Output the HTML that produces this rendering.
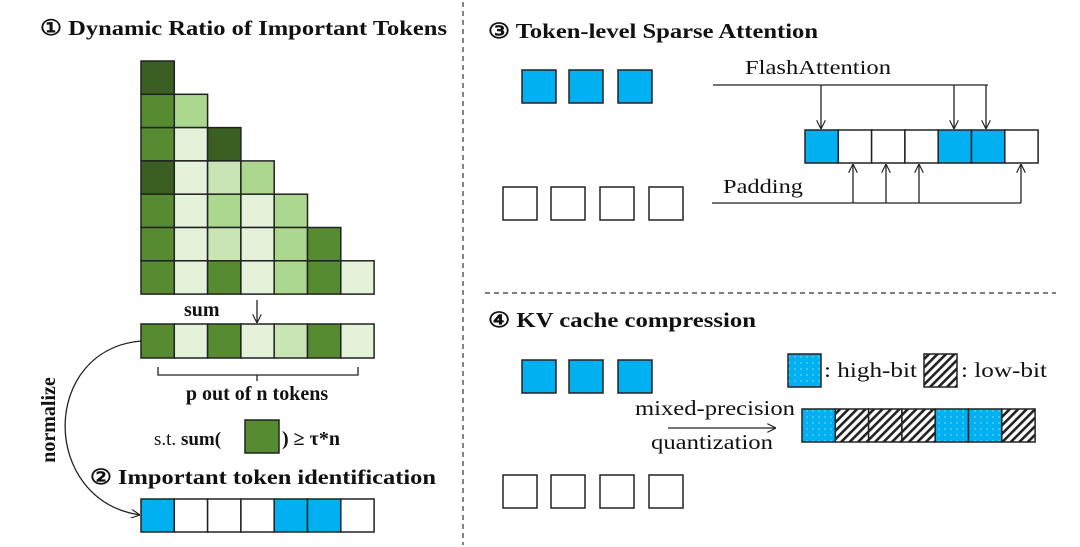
<!DOCTYPE html>
<html><head><meta charset="utf-8"><style>html,body{margin:0;padding:0;background:#fff}svg{display:block}</style></head><body>
<svg width="1080" height="547" viewBox="0 0 1080 547" xmlns="http://www.w3.org/2000/svg" font-family="Liberation Serif, serif">
<defs>
<marker id="ah" viewBox="0 0 10 10" refX="10" refY="5" markerWidth="9" markerHeight="9" orient="auto" markerUnits="userSpaceOnUse"><path d="M0,0 L10,5 L0,10" fill="none" stroke="#222" stroke-width="1.3"/></marker>
<pattern id="dots" width="6" height="6" patternUnits="userSpaceOnUse"><rect width="6" height="6" fill="#00b0f0"/><circle cx="3" cy="3" r="0.7" fill="#9fe0fa"/></pattern>
<pattern id="hatch" width="6" height="6" patternUnits="userSpaceOnUse" patternTransform="rotate(45)"><rect width="6" height="6" fill="#fff"/><rect width="2.6" height="6" fill="#222"/></pattern>
</defs>
<g stroke="#222" stroke-width="1.5">
<rect x="141" y="61" width="33.3" height="33.3" fill="#3b5e22"/>
<rect x="141" y="94.3" width="33.3" height="33.3" fill="#568b32"/><rect x="174.3" y="94.3" width="33.3" height="33.3" fill="#acd78e"/>
<rect x="141" y="127.6" width="33.3" height="33.3" fill="#568b32"/><rect x="174.3" y="127.6" width="33.3" height="33.3" fill="#e5f2da"/><rect x="207.6" y="127.6" width="33.3" height="33.3" fill="#3b5e22"/>
<rect x="141" y="160.9" width="33.3" height="33.3" fill="#3b5e22"/><rect x="174.3" y="160.9" width="33.3" height="33.3" fill="#e5f2da"/><rect x="207.6" y="160.9" width="33.3" height="33.3" fill="#c9e5b5"/><rect x="240.9" y="160.9" width="33.3" height="33.3" fill="#acd78e"/>
<rect x="141" y="194.2" width="33.3" height="33.3" fill="#568b32"/><rect x="174.3" y="194.2" width="33.3" height="33.3" fill="#e5f2da"/><rect x="207.6" y="194.2" width="33.3" height="33.3" fill="#acd78e"/><rect x="240.9" y="194.2" width="33.3" height="33.3" fill="#e5f2da"/><rect x="274.2" y="194.2" width="33.3" height="33.3" fill="#acd78e"/>
<rect x="141" y="227.5" width="33.3" height="33.3" fill="#568b32"/><rect x="174.3" y="227.5" width="33.3" height="33.3" fill="#e5f2da"/><rect x="207.6" y="227.5" width="33.3" height="33.3" fill="#c9e5b5"/><rect x="240.9" y="227.5" width="33.3" height="33.3" fill="#e5f2da"/><rect x="274.2" y="227.5" width="33.3" height="33.3" fill="#acd78e"/><rect x="307.5" y="227.5" width="33.3" height="33.3" fill="#568b32"/>
<rect x="141" y="260.8" width="33.3" height="33.3" fill="#568b32"/><rect x="174.3" y="260.8" width="33.3" height="33.3" fill="#e5f2da"/><rect x="207.6" y="260.8" width="33.3" height="33.3" fill="#568b32"/><rect x="240.9" y="260.8" width="33.3" height="33.3" fill="#e5f2da"/><rect x="274.2" y="260.8" width="33.3" height="33.3" fill="#acd78e"/><rect x="307.5" y="260.8" width="33.3" height="33.3" fill="#568b32"/><rect x="340.8" y="260.8" width="33.3" height="33.3" fill="#e5f2da"/>
<rect x="141" y="324" width="33.3" height="34" fill="#568b32"/><rect x="174.3" y="324" width="33.3" height="34" fill="#e5f2da"/><rect x="207.6" y="324" width="33.3" height="34" fill="#568b32"/><rect x="240.9" y="324" width="33.3" height="34" fill="#e5f2da"/><rect x="274.2" y="324" width="33.3" height="34" fill="#c9e5b5"/><rect x="307.5" y="324" width="33.3" height="34" fill="#568b32"/><rect x="340.8" y="324" width="33.3" height="34" fill="#e5f2da"/>
<rect x="141" y="499" width="33.3" height="33" fill="#00b0f0"/><rect x="174.3" y="499" width="33.3" height="33" fill="#fff"/><rect x="207.6" y="499" width="33.3" height="33" fill="#fff"/><rect x="240.9" y="499" width="33.3" height="33" fill="#fff"/><rect x="274.2" y="499" width="33.3" height="33" fill="#00b0f0"/><rect x="307.5" y="499" width="33.3" height="33" fill="#00b0f0"/><rect x="340.8" y="499" width="33.3" height="33" fill="#fff"/>
<rect x="245" y="420" width="34" height="33" fill="#568b32"/>
<rect x="522" y="70" width="34" height="33" fill="#00b0f0"/><rect x="569" y="70" width="34" height="33" fill="#00b0f0"/><rect x="618" y="70" width="34" height="33" fill="#00b0f0"/>
<rect x="503" y="187" width="34" height="33" fill="#fff"/><rect x="551" y="187" width="34" height="33" fill="#fff"/><rect x="600" y="187" width="34" height="33" fill="#fff"/><rect x="649" y="187" width="34" height="33" fill="#fff"/>
<rect x="805" y="130" width="33.3" height="33" fill="#00b0f0"/><rect x="838.3" y="130" width="33.3" height="33" fill="#fff"/><rect x="871.6" y="130" width="33.3" height="33" fill="#fff"/><rect x="904.9" y="130" width="33.3" height="33" fill="#fff"/><rect x="938.2" y="130" width="33.3" height="33" fill="#00b0f0"/><rect x="971.5" y="130" width="33.3" height="33" fill="#00b0f0"/><rect x="1004.8" y="130" width="33.3" height="33" fill="#fff"/>
<rect x="522" y="360" width="34" height="33" fill="#00b0f0"/><rect x="569" y="360" width="34" height="33" fill="#00b0f0"/><rect x="618" y="360" width="34" height="33" fill="#00b0f0"/>
<rect x="503" y="475" width="34" height="33" fill="#fff"/><rect x="551" y="475" width="34" height="33" fill="#fff"/><rect x="600" y="475" width="34" height="33" fill="#fff"/><rect x="649" y="475" width="34" height="33" fill="#fff"/>
<rect x="788" y="354" width="33" height="33" fill="url(#dots)"/><rect x="924" y="354" width="33" height="33" fill="url(#hatch)"/>
<rect x="802" y="409" width="33.3" height="33" fill="url(#dots)"/><rect x="835.3" y="409" width="33.3" height="33" fill="url(#hatch)"/><rect x="868.6" y="409" width="33.3" height="33" fill="url(#hatch)"/><rect x="901.9" y="409" width="33.3" height="33" fill="url(#hatch)"/><rect x="935.2" y="409" width="33.3" height="33" fill="url(#dots)"/><rect x="968.5" y="409" width="33.3" height="33" fill="url(#dots)"/><rect x="1001.8" y="409" width="33.3" height="33" fill="url(#hatch)"/>
</g>
<g stroke="#222" stroke-width="1.3" fill="none">
<line x1="257" y1="300" x2="257" y2="323" marker-end="url(#ah)"/>
<path d="M158,367 V375 H358 V367 M257,375 V381"/>
<path d="M141,341 C40,350 40,500 140,515" marker-end="url(#ah)"/>
<line x1="713" y1="85" x2="988" y2="85"/>
<line x1="821" y1="85" x2="821" y2="129" marker-end="url(#ah)"/>
<line x1="954" y1="85" x2="954" y2="129" marker-end="url(#ah)"/>
<line x1="986" y1="85" x2="986" y2="129" marker-end="url(#ah)"/>
<line x1="712" y1="203" x2="1021" y2="203"/>
<line x1="853" y1="203" x2="853" y2="164" marker-end="url(#ah)"/>
<line x1="886" y1="203" x2="886" y2="164" marker-end="url(#ah)"/>
<line x1="919" y1="203" x2="919" y2="164" marker-end="url(#ah)"/>
<line x1="1021" y1="203" x2="1021" y2="164" marker-end="url(#ah)"/>
<line x1="668" y1="428" x2="776" y2="428" marker-end="url(#ah)"/>
</g>
<g stroke="#333" stroke-width="1.2" stroke-dasharray="5,4">
<line x1="463" y1="2" x2="463" y2="545"/>
<line x1="485" y1="293" x2="1056" y2="293"/>
</g>
<g fill="#111">
<text x="40" y="35" font-size="21.5" font-weight="bold" textLength="407" lengthAdjust="spacingAndGlyphs">① Dynamic Ratio of Important Tokens</text>
<text x="488" y="38" font-size="21" font-weight="bold" textLength="330" lengthAdjust="spacingAndGlyphs">③ Token-level Sparse Attention</text>
<text x="488" y="327" font-size="21" font-weight="bold" textLength="268" lengthAdjust="spacingAndGlyphs">④ KV cache compression</text>
<text x="184" y="316" font-size="20" font-weight="bold">sum</text>
<text x="257" y="400" font-size="20" font-weight="bold" text-anchor="middle">p out of n tokens</text>
<text x="154" y="445" font-size="19">s.t. <tspan font-weight="bold">sum(</tspan></text>
<text x="282" y="445" font-size="20" font-weight="bold">) ≥ τ*n</text>
<text x="90" y="484" font-size="21" font-weight="bold" textLength="346" lengthAdjust="spacingAndGlyphs">② Important token identification</text>
<text transform="translate(55,420) rotate(-90)" font-size="20" font-weight="bold" text-anchor="middle">normalize</text>
<text x="745" y="74" font-size="20" textLength="146" lengthAdjust="spacingAndGlyphs">FlashAttention</text>
<text x="723" y="193" font-size="20" textLength="80" lengthAdjust="spacingAndGlyphs">Padding</text>
<text x="824" y="377" font-size="21" textLength="93" lengthAdjust="spacingAndGlyphs">: high-bit</text>
<text x="961" y="377" font-size="21" textLength="86" lengthAdjust="spacingAndGlyphs">: low-bit</text>
<text x="635" y="415" font-size="21" textLength="160" lengthAdjust="spacingAndGlyphs">mixed-precision</text>
<text x="651" y="449" font-size="21" textLength="122" lengthAdjust="spacingAndGlyphs">quantization</text>
</g>
</svg>
</body></html>
